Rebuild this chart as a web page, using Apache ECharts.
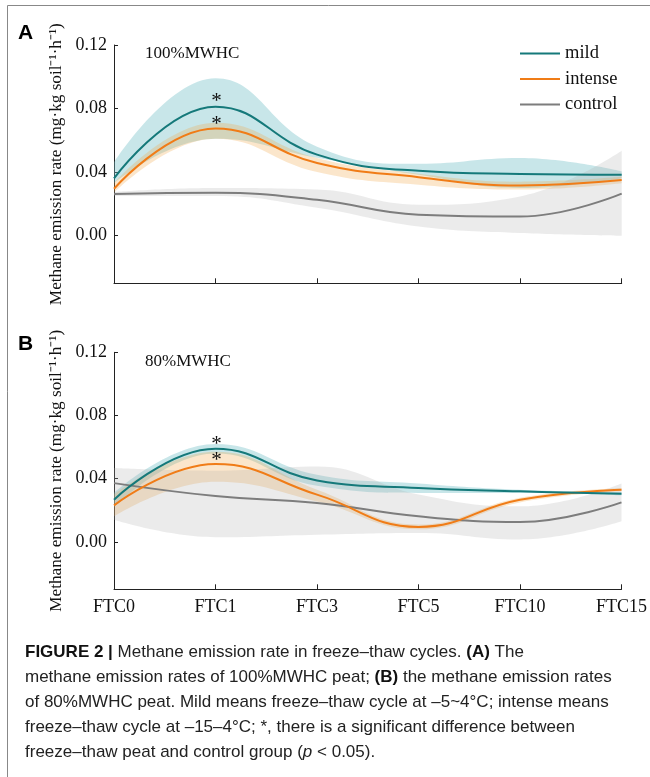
<!DOCTYPE html>
<html><head><meta charset="utf-8">
<script src="https://cdn.jsdelivr.net/npm/echarts@6/dist/echarts.min.js"></script>
<style>html,body{margin:0;padding:0;background:#fff}#c{width:650px;height:777px}</style>
</head><body><div id="c"></div>
<script>
const categories = ['FTC0','FTC1','FTC3','FTC5','FTC10','FTC15'];
const yTicks = [0, 0.04, 0.08, 0.12];

// Panel A (100%MWHC)
const mildA      = [0.0360, 0.0812, 0.0510, 0.0408, 0.0388, 0.0383];
const mildA_lo   = [0.0330, 0.0610, 0.0490, 0.0383, 0.0300, 0.0362];
const mildA_hi   = [0.0460, 0.0990, 0.0560, 0.0452, 0.0488, 0.0404];
const intenseA    = [0.0295, 0.0675, 0.0457, 0.0368, 0.0316, 0.0350];
const intenseA_lo = [0.0270, 0.0610, 0.0400, 0.0320, 0.0290, 0.0330];
const intenseA_hi = [0.0330, 0.0710, 0.0488, 0.0390, 0.0340, 0.0370];
const controlA    = [0.0262, 0.0270, 0.0226, 0.0132, 0.0120, 0.0264];
const controlA_lo = [0.0250, 0.0250, 0.0176, 0.0058, 0.0017, -0.0004];
const controlA_hi = [0.0275, 0.0300, 0.0290, 0.0195, 0.0247, 0.0530];

// Panel B (80%MWHC)
const mildB      = [0.0267, 0.0590, 0.0389, 0.0341, 0.0320, 0.0305];
const mildB_lo   = [0.0220, 0.0560, 0.0355, 0.0310, 0.0310, 0.0295];
const mildB_hi   = [0.0310, 0.0620, 0.0425, 0.0370, 0.0330, 0.0315];
const intenseB    = [0.0231, 0.0493, 0.0299, 0.0095, 0.0267, 0.0330];
const intenseB_lo = [0.0160, 0.0380, 0.0256, 0.0080, 0.0250, 0.0320];
const intenseB_hi = [0.0300, 0.0570, 0.0330, 0.0110, 0.0280, 0.0340];
const controlB    = [0.0372, 0.0290, 0.0246, 0.0162, 0.0126, 0.0250];
const controlB_lo = [0.0140, 0.0030, 0.0046, 0.0057, 0.0015, 0.0130];
const controlB_hi = [0.0467, 0.0450, 0.0477, 0.0300, 0.0225, 0.0370];

const COL = {
  mild:   {line:'#15797a', band:'rgba(110,190,196,0.38)'},
  intense:{line:'#f07c17', band:'rgba(240,165,70,0.28)'},
  control:{line:'#7d7d7d', band:'rgba(170,170,170,0.24)'}
};
const SERIF = '"Liberation Serif","Times New Roman",serif';

function band(name, g, lo, hi, color) {
  const stack = name + g;
  return [
    {type:'line', name: stack+'_lo', xAxisIndex:g, yAxisIndex:g, data: lo, stack: stack,
     smooth:0.45, symbol:'none', lineStyle:{opacity:0}, z:1, silent:true},
    {type:'line', name: stack+'_hi', xAxisIndex:g, yAxisIndex:g, data: hi.map((v,i)=>v-lo[i]), stack: stack,
     smooth:0.45, symbol:'none', lineStyle:{opacity:0}, areaStyle:{color: color, opacity:1}, z:1, silent:true}
  ];
}
function line(name, g, data, star, off) {
  const s = {type:'line', name:name, xAxisIndex:g, yAxisIndex:g, data:data, smooth:0.45,
    symbol:'none', color: COL[name].line, lineStyle:{color:COL[name].line, width:2}, z:3};
  if (star) {
    s.markPoint = {symbol:'circle', symbolSize:2, itemStyle:{color:'rgba(0,0,0,0)'}, silent:true,
      label:{show:true, formatter:'*', position:'inside', offset:[1, off],
        fontFamily:SERIF, fontSize:21, color:'#111'},
      data:[{coord:['FTC1', data[1]]}]};
  }
  return s;
}

const series = [].concat(
  band('mild',0,mildA_lo,mildA_hi,COL.mild.band),
  band('intense',0,intenseA_lo,intenseA_hi,COL.intense.band),
  band('control',0,controlA_lo,controlA_hi,COL.control.band),
  band('mild',1,mildB_lo,mildB_hi,COL.mild.band),
  band('intense',1,intenseB_lo,intenseB_hi,COL.intense.band),
  band('control',1,controlB_lo,controlB_hi,COL.control.band),
  [line('control',0,controlA), line('intense',0,intenseA,true,-4), line('mild',0,mildA,true,-5),
   line('control',1,controlB), line('intense',1,intenseB,true,-3.5), line('mild',1,mildB,true,-4)]
);

const yName = 'Methane emission rate (mg·kg soil⁻¹·h⁻¹)';
function yAxis(g) {
  return {gridIndex:g, type:'value', min:-0.03, max:0.12, interval:0.01,
    axisLine:{show:true, lineStyle:{color:'#222', width:1}},
    axisTick:{show:true, inside:true, length:4, customValues:yTicks, lineStyle:{color:'#222'}},
    axisLabel:{customValues:yTicks, formatter:v=>v.toFixed(2), fontFamily:SERIF, fontSize:18, color:'#111', margin:7},
    splitLine:{show:false},
    name:yName, nameLocation:'middle', nameGap:48, nameRotate:90,
    nameTextStyle:{fontFamily:SERIF, fontSize:17.2, color:'#111'}};
}
function xAxis(g, labels) {
  return {gridIndex:g, type:'category', data:categories, boundaryGap:false,
    axisLine:{show:true, onZero:false, lineStyle:{color:'#222', width:1}},
    axisTick:{show:true, inside:true, length:5, lineStyle:{color:'#222'}},
    axisLabel:{show:labels, fontFamily:SERIF, fontSize:18, color:'#111', margin:9},
    splitLine:{show:false}};
}

const SANS = '"Liberation Sans",Arial,sans-serif';
const capFont = '17px ' + SANS;
function capLine(y, text) {
  return {type:'text', x:25, y:y, silent:true,
    style:{text:text, font:capFont, fill:'#222', verticalAlign:'middle',
      rich:{b:{font:'bold 17px '+SANS, fill:'#111'}, i:{font:'italic 17px '+SANS, fill:'#222'}}}};
}

const option = {
  animation:false,
  backgroundColor:'#fff',
  grid:[
    {left:114, width:507.7, top:45, height:238.3},
    {left:114, width:507.7, top:352.3, height:237}
  ],
  xAxis:[xAxis(0,false), xAxis(1,true)],
  yAxis:[yAxis(0), yAxis(1)],
  legend:{data:['mild','intense','control'], orient:'vertical', left:520, top:44,
    icon:'rect', itemWidth:40, itemHeight:2, itemGap:6.5, padding:0,
    textStyle:{fontFamily:SERIF, fontSize:18.5, color:'#111'}},
  series:series,
  graphic:[
    {type:'line', silent:true, shape:{x1:7.5, y1:5.5, x2:650, y2:5.5}, style:{stroke:'#888', lineWidth:1}},
    {type:'line', silent:true, shape:{x1:7.5, y1:5.5, x2:7.5, y2:777}, style:{stroke:'#888', lineWidth:1}},
    {type:'text', x:18, y:33, silent:true, style:{text:'A', font:'bold 21px '+SANS, fill:'#000', verticalAlign:'middle'}},
    {type:'text', x:18, y:344, silent:true, style:{text:'B', font:'bold 21px '+SANS, fill:'#000', verticalAlign:'middle'}},
    {type:'text', x:145, y:54, silent:true, style:{text:'100%MWHC', font:'17px '+SERIF, fill:'#111', verticalAlign:'middle'}},
    {type:'text', x:145, y:362, silent:true, style:{text:'80%MWHC', font:'17px '+SERIF, fill:'#111', verticalAlign:'middle'}},
    capLine(652, '{b|FIGURE 2 |} Methane emission rate in freeze–thaw cycles. {b|(A)} The'),
    capLine(677, 'methane emission rates of 100%MWHC peat; {b|(B)} the methane emission rates'),
    capLine(702, 'of 80%MWHC peat. Mild means freeze–thaw cycle at –5~4°C; intense means'),
    capLine(727, 'freeze–thaw cycle at –15–4°C; *, there is a significant difference between'),
    capLine(752, 'freeze–thaw peat and control group ({i|p} < 0.05).')
  ]
};
const chart = echarts.init(document.getElementById('c'), null, {renderer:'canvas'});
chart.setOption(option);
</script></body></html>
